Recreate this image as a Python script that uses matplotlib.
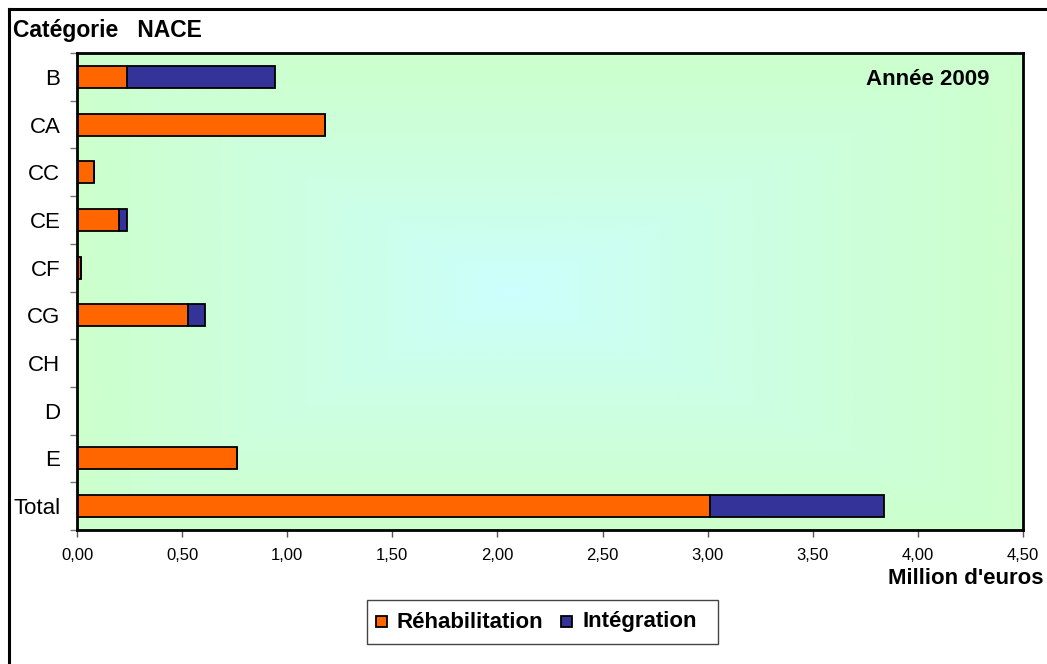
import numpy as np
import matplotlib.pyplot as plt
from matplotlib.lines import Line2D
from matplotlib.patches import Rectangle

plt.rcParams['font.family'] = ['Liberation Sans', 'DejaVu Sans']

# data (million euros)
categories = ['B', 'CA', 'CC', 'CE', 'CF', 'CG', 'CH', 'D', 'E', 'Total']
rehabilitation = [0.24, 1.18, 0.08, 0.20, 0.02, 0.53, 0.0, 0.0, 0.76, 3.01]
integration = [0.70, 0.0, 0.0, 0.04, 0.0, 0.08, 0.0, 0.0, 0.0, 0.83]
xticks = [0, 0.5, 1, 1.5, 2, 2.5, 3, 3.5, 4, 4.5]
series_names = ['Réhabilitation', 'Intégration']

orange = '#FF6600'
blue = '#333399'

fig = plt.figure(figsize=(10.47, 6.64), dpi=100)
W, H = 1047, 664
# plot area in pixels: left 77, right 1023, top 53, bottom 530
ax = fig.add_axes([77 / W, 1 - 530 / H, (1023 - 77) / W, (530 - 53) / H])

# rectangular "from centre" gradient, cyan centre to green edges
nx, ny = 400, 250
gx = np.linspace(0, 1, nx)
gy = np.linspace(0, 1, ny)
X, Y = np.meshgrid(gx, gy)
cx = 0.46
d = np.maximum(np.abs(X - cx) / np.where(X < cx, cx, 1 - cx), np.abs(Y - 0.5) / 0.5)
d = np.clip(d, 0, 1) ** 0.8
c0 = np.array([204, 255, 255]) / 255
c1 = np.array([204, 255, 204]) / 255
img = c0[None, None, :] * (1 - d[..., None]) + c1[None, None, :] * d[..., None]
ax.imshow(img, extent=[0, 1, 0, 1], transform=ax.transAxes, aspect='auto',
          zorder=0, interpolation='bilinear')

y = np.arange(len(categories))
ax.barh(y, rehabilitation, height=0.46, color=orange, edgecolor='black', linewidth=1.3, zorder=2)
ax.barh(y, integration, left=rehabilitation, height=0.46, color=blue, edgecolor='black',
        linewidth=1.3, zorder=2)

ax.set_xlim(0, 4.5)
ax.set_ylim(len(categories) - 0.5, -0.5)
ax.set_xticks(xticks)
ax.set_xticklabels([('%.2f' % v).replace('.', ',') for v in xticks], fontsize=12)
ax.set_yticks(y)
ax.set_yticklabels(categories, fontsize=16)
ax.tick_params(axis='y', length=0, pad=12)
ax.tick_params(axis='x', length=5, width=1, color='#555555', pad=8)
# y ticks on category boundaries
ax.set_yticks(np.arange(-0.5, len(categories), 1), minor=True)
ax.tick_params(axis='y', which='minor', length=5, width=1, color='#777777')
for s in ax.spines.values():
    s.set_linewidth(2)

fig.text(13 / W, 1 - 31 / H, 'Catégorie   NACE', fontsize=16.5, fontweight='bold', va='center')
ax.text(0.965, 0.945, 'Année 2009', transform=ax.transAxes, fontsize=16,
        fontweight='bold', ha='right', va='center')
fig.text(1043 / W, 1 - 578 / H, "Million d'euros", fontsize=16, fontweight='bold',
         ha='right', va='center')

# legend, drawn by hand so both labels share one baseline
def px(x, yy):
    return x / W, 1 - yy / H

fig.add_artist(Rectangle(px(367, 644), 351 / W, 44 / H, transform=fig.transFigure,
                         facecolor='white', edgecolor='#444444', linewidth=1))
for x0, col, tx, name in [(376, orange, 397, series_names[0]),
                          (561, blue, 582, series_names[1])]:
    fig.add_artist(Rectangle(px(x0, 627), 11 / W, 11 / H, transform=fig.transFigure,
                             facecolor=col, edgecolor='black', linewidth=1.3))
    fig.text(*px(tx, 627.5), name, fontsize=16, fontweight='bold', va='baseline')

# figure border (left and top visible)
fig.add_artist(Line2D([9 / W, 9 / W], [0, 1 - 9 / H], color='black', linewidth=2.2))
fig.add_artist(Line2D([9 / W, 1], [1 - 9 / H, 1 - 9 / H], color='black', linewidth=2.2))

fig.savefig('out.png', dpi=100)
